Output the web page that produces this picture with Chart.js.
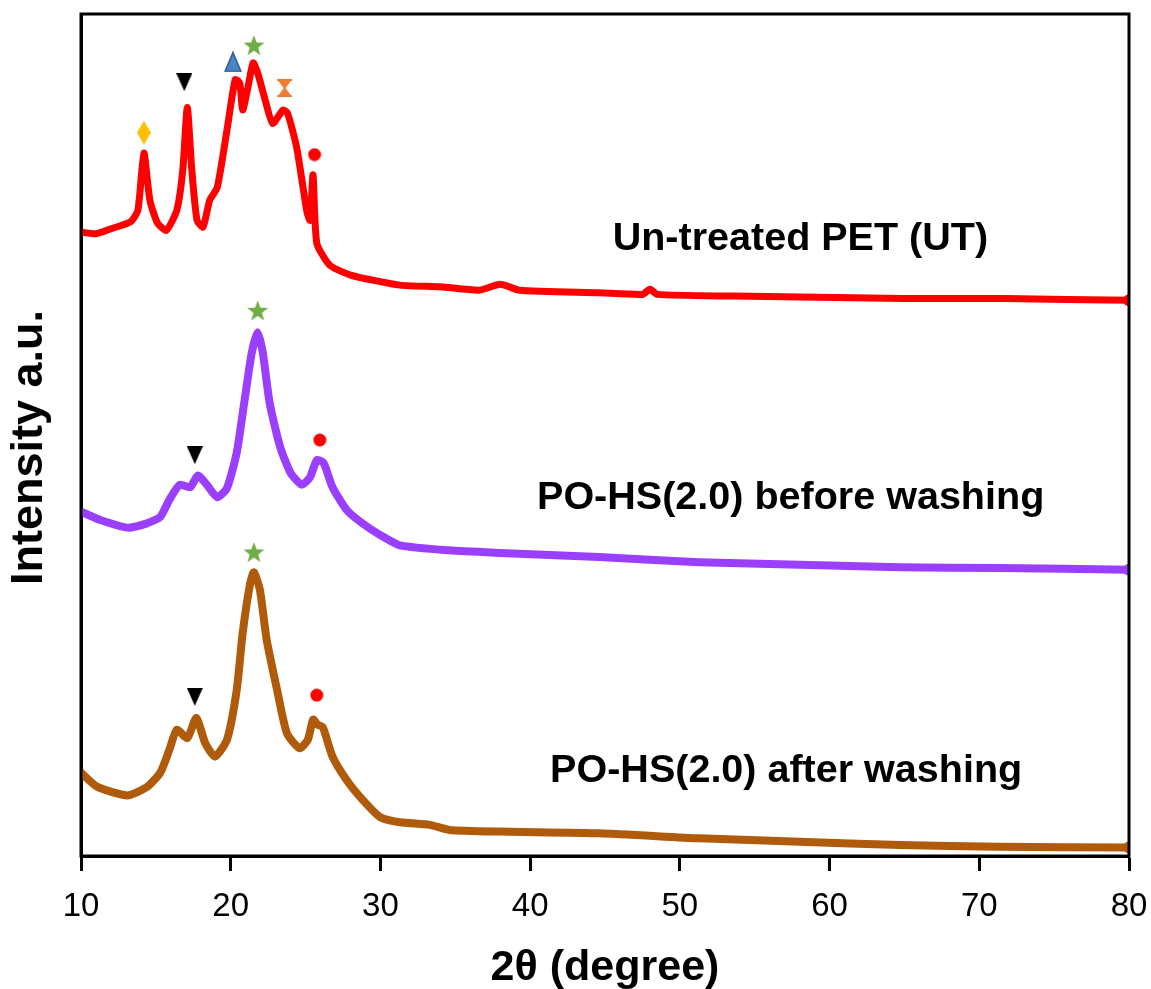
<!DOCTYPE html>
<html>
<head>
<meta charset="utf-8">
<script src="https://cdn.jsdelivr.net/npm/chart.js@4.4.1/dist/chart.umd.min.js"></script>
<style>
  body { margin: 0; background: #fff; }
  #wrap { width: 1151px; height: 989px; }
</style>
</head>
<body>
<div id="wrap"><canvas id="xrd"></canvas></div>
<script>
// 2-theta (degree) and intensity (a.u.)
const utX = [10, 11, 12, 13.3, 13.8, 14.2, 14.6, 15.1, 15.7, 16.4, 16.8, 17.1, 17.4, 17.75, 18.15, 18.6, 19.1, 19.75, 20.3, 20.6, 20.8, 21.15, 21.5, 21.8, 22.3, 22.8, 23.5, 23.8, 24.4, 25.1, 25.3, 25.5, 25.75, 26.6, 28, 31.3, 34, 36.6, 38, 39.3, 44.6, 47.5, 48, 48.5, 53.6, 58, 65, 71.7, 80];
const utY = [741, 739, 745, 753, 767, 835, 779, 752, 743, 767, 815, 889, 815, 755, 747, 779, 794, 862, 922, 918, 886, 913, 942, 930, 898, 870, 886, 882, 842, 764, 755, 809, 728, 702, 690, 678, 676, 672, 679, 672, 669, 667, 673, 667, 665, 664, 662, 662, 660];

const beforeX = [10, 11.3, 13.1, 14.4, 15.3, 15.9, 16.6, 17.3, 17.8, 18.4, 19.1, 19.75, 20.4, 20.9, 21.4, 21.8, 22.15, 22.6, 23.3, 24.0, 24.75, 25.3, 25.75, 26.2, 26.8, 27.75, 28.8, 30, 31.3, 34.6, 38, 44.6, 51.3, 58, 64.7, 71.3, 80];
const beforeY = [409, 399, 390, 395, 403, 423, 441, 438, 452, 441, 426, 437, 479, 538, 597, 622, 597, 538, 486, 455, 441, 450, 470, 467, 438, 411, 395, 381, 369, 363, 360, 355, 349, 346, 343, 342, 340];

const afterX = [10, 11.1, 13.1, 14.4, 15.3, 15.9, 16.4, 17.1, 17.7, 18.3, 18.95, 19.75, 20.4, 20.8, 21.3, 21.55, 21.95, 22.4, 23.1, 23.75, 24.6, 25.15, 25.5, 25.8, 26.15, 26.8, 27.75, 28.8, 30, 31.3, 33.3, 34.6, 38, 44.6, 51.3, 58, 64.7, 71.3, 80];
const afterY = [99, 82, 72, 82, 99, 126, 150, 140, 164, 134, 118, 138, 197, 265, 324, 337, 316, 257, 197, 146, 128, 138, 162, 156, 153, 118, 90, 67, 46, 40, 37, 31, 29, 27, 21, 17, 13, 11, 10];

// peak markers [2theta, intensity]
const diamondPts = [[14.2, 859]];
const downTriPts = [[16.9, 919], [17.6, 476], [17.6, 189]];
const upTriPts = [[20.15, 943]];
const starPts = [[21.55, 963], [21.8, 648], [21.55, 361]];
const hourglassPts = [[23.6, 912]];
const dotPts = [[25.6, 833], [25.95, 494], [25.75, 191]];

const curveLabels = ['Un-treated PET (UT)', 'PO-HS(2.0) before washing', 'PO-HS(2.0) after washing'];
const labelPos = [[58.05, 732], [57.4, 425], [57.1, 100]];

const xTicks = [10, 20, 30, 40, 50, 60, 70, 80];

const FONT = '"Liberation Sans", Arial, sans-serif';

function pts(xs, ys) {
  return xs.map((x, i) => ({x: x, y: ys[i]}));
}
function pairs(a) {
  return a.map(p => ({x: p[0], y: p[1]}));
}

// marker images
function marker(w, h, draw) {
  const c = document.createElement('canvas');
  c.width = w; c.height = h;
  draw(c.getContext('2d'), w, h);
  return c;
}
const diamondImg = marker(14, 24, (g, w, h) => {
  g.fillStyle = '#FFC000';
  g.beginPath(); g.moveTo(w/2, 0); g.lineTo(w, h/2); g.lineTo(w/2, h); g.lineTo(0, h/2); g.closePath(); g.fill();
});
const downTriImg = marker(16, 18, (g, w, h) => {
  g.fillStyle = '#000';
  g.beginPath(); g.moveTo(0, 0); g.lineTo(w, 0); g.lineTo(w/2, h); g.closePath(); g.fill();
});
const upTriImg = marker(18, 21, (g, w, h) => {
  g.fillStyle = '#4A86C5'; g.strokeStyle = '#2F5597'; g.lineWidth = 1.5;
  g.beginPath(); g.moveTo(w/2, 1); g.lineTo(w - 1, h - 1); g.lineTo(1, h - 1); g.closePath(); g.fill(); g.stroke();
});
const starImg = marker(22, 21, (g, w, h) => {
  g.fillStyle = '#70AD47';
  const cx = w/2, cy = h/2 + 1, ro = 11, ri = 4.5;
  g.beginPath();
  for (let i = 0; i < 10; i++) {
    const r = i % 2 ? ri : ro;
    const a = -Math.PI/2 + i * Math.PI/5;
    g.lineTo(cx + r * Math.cos(a), cy + r * Math.sin(a));
  }
  g.closePath(); g.fill();
});
const hourglassImg = marker(15, 18, (g, w, h) => {
  g.fillStyle = '#ED7D31';
  g.beginPath(); g.moveTo(0, 0); g.lineTo(w, 0); g.lineTo(w/2 + 1, h/2); g.lineTo(w, h); g.lineTo(0, h); g.lineTo(w/2 - 1, h/2); g.closePath(); g.fill();
  g.fillRect(0, 0, w, 2); g.fillRect(0, h - 2, w, 2);
});
const dotImg = marker(14, 14, (g, w, h) => {
  g.fillStyle = '#FF0000';
  g.beginPath(); g.arc(w/2, h/2, 6.5, 0, Math.PI * 2); g.fill();
});

function curve(data, color, width) {
  return {
    type: 'line', data: data, borderColor: color, backgroundColor: color,
    borderWidth: width, tension: 0.2, borderCapStyle: 'round', borderJoinStyle: 'round',
    pointRadius: ctx => ctx.dataIndex === data.length - 1 ? 6 : 0,
    pointBorderWidth: 0, fill: false
  };
}
function marks(data, img) {
  return { type: 'scatter', data: data, pointStyle: img, pointRadius: 10, showLine: false };
}

const boxPlugin = {
  id: 'box',
  afterDraw(chart) {
    const g = chart.ctx, a = chart.chartArea;
    g.save();
    g.strokeStyle = '#000'; g.lineWidth = 3;
    g.strokeRect(a.left, a.top, a.right - a.left, a.bottom - a.top);
    g.fillStyle = '#000';
    g.font = 'bold 38px ' + FONT;
    g.textAlign = 'center'; g.textBaseline = 'middle';
    const xs = chart.scales.x, ys = chart.scales.y;
    curveLabels.forEach((t, i) => {
      g.save();
      g.translate(xs.getPixelForValue(labelPos[i][0]), ys.getPixelForValue(labelPos[i][1]));
      g.scale(1.04, 1);
      g.fillText(t, 0, 0);
      g.restore();
    });
    g.restore();
  }
};

new Chart(document.getElementById('xrd'), {
  data: {
    datasets: [
      marks(pairs(diamondPts), diamondImg),
      marks(pairs(downTriPts), downTriImg),
      marks(pairs(upTriPts), upTriImg),
      marks(pairs(starPts), starImg),
      marks(pairs(hourglassPts), hourglassImg),
      marks(pairs(dotPts), dotImg),
      curve(pts(utX, utY), '#FF0000', 7),
      curve(pts(beforeX, beforeY), '#9B3FFF', 8),
      curve(pts(afterX, afterY), '#B05A0C', 8)
    ]
  },
  options: {
    responsive: true,
    maintainAspectRatio: false,
    animation: false,
    layout: { padding: { top: 14, right: 4, left: 0, bottom: 0 } },
    plugins: { legend: { display: false }, tooltip: { enabled: false } },
    scales: {
      x: {
        type: 'linear', min: 10, max: 80,
        afterBuildTicks: s => { s.ticks = xTicks.map(v => ({value: v})); },
        afterFit: s => { s.height = 133; s.paddingRight = 22; s.paddingLeft = 0; },
        grid: { display: true, drawOnChartArea: false, drawTicks: true, tickLength: 15, tickWidth: 3, tickColor: '#000' },
        border: { display: true, color: '#000', width: 3 },
        ticks: { color: '#000', padding: 16, font: { size: 33, family: FONT } },
        title: { display: true, text: '2θ (degree)', color: '#000', padding: { top: 0, bottom: -5 },
                 font: { size: 43, weight: 'bold', family: FONT } }
      },
      y: {
        type: 'linear', min: 0, max: 1000,
        afterFit: s => { s.width = 81; },
        grid: { display: false },
        border: { display: true, color: '#000', width: 3 },
        ticks: { display: false },
        title: { display: true, text: 'Intensity a.u.  ', color: '#000', padding: { top: 3, bottom: 0 },
                 font: { size: 45, weight: 'bold', family: FONT } }
      }
    }
  },
  plugins: [boxPlugin]
});
</script>
</body>
</html>
